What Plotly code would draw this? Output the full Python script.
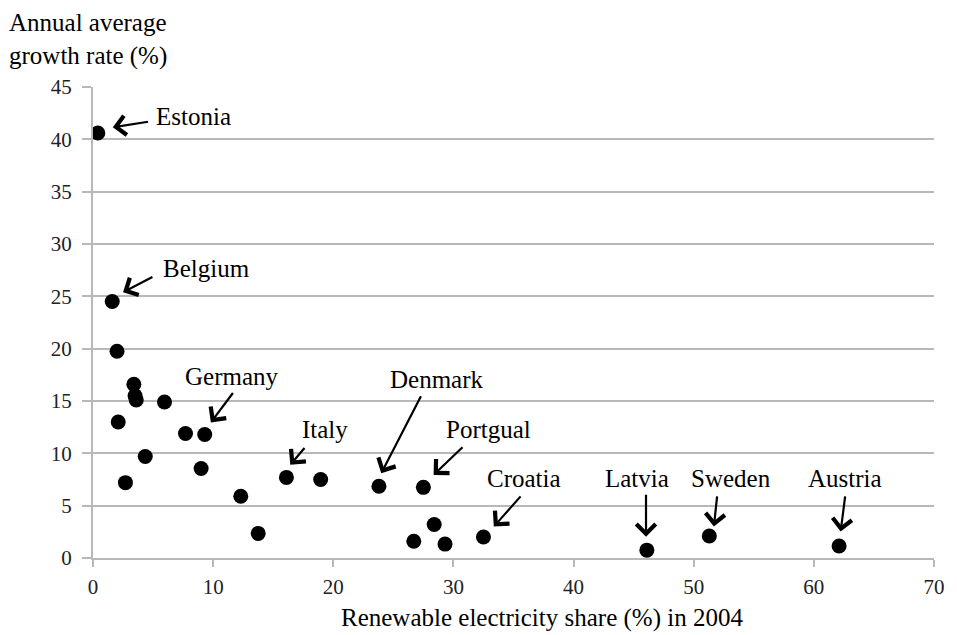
import plotly.graph_objects as go

# Data: renewable electricity share 2004 (%) vs annual average growth rate (%)
share = [0.4, 1.6, 2.0, 3.4, 3.5, 3.6, 2.1, 2.7, 4.35, 5.95, 7.7, 9.3, 9.0, 12.3, 13.75,
         16.1, 18.95, 23.8, 27.5, 28.4, 26.7, 29.3, 32.5, 46.1, 51.3, 62.1]
growth = [40.6, 24.5, 19.75, 16.6, 15.5, 15.1, 13.0, 7.2, 9.7, 14.9, 11.9, 11.8, 8.55, 5.9, 2.35,
          7.7, 7.5, 6.85, 6.75, 3.2, 1.6, 1.33, 2.0, 0.75, 2.1, 1.15]

# Labels: name, arrow tip (x, y), arrow tail (x, y), text position (x, y), anchor
labels = ["Estonia", "Belgium", "Germany", "Italy", "Denmark", "Portgual",
          "Croatia", "Latvia", "Sweden", "Austria"]
tip_x = [1.65, 2.5, 9.81, 16.42, 23.99, 28.35, 33.36, 46.03, 51.68, 62.23]
tip_y = [41.15, 25.39, 12.95, 8.9, 8.1, 7.94, 3.0, 2.04, 3.0, 2.52]
tail_x = [4.71, 5.07, 11.74, 17.71, 27.36, 30.88, 35.7, 46.03, 51.96, 62.62]
tail_y = [41.7, 26.92, 15.91, 10.65, 15.6, 10.72, 6.03, 6.19, 6.03, 6.03]
text_x = [5.04, 5.68, 11.6, 19.31, 28.6, 32.9, 35.87, 45.27, 53.14, 62.56]
text_y = [42.2, 27.63, 17.35, 12.25, 17.03, 12.25, 7.56, 7.56, 7.56, 7.56]
text_anchor = ["left", "left", "center", "center", "center", "center",
               "center", "center", "center", "center"]

x_ticks = [0, 10, 20, 30, 40, 50, 60, 70]
y_ticks = [0, 5, 10, 15, 20, 25, 30, 35, 40, 45]

FONT = "Liberation Serif"
GRID = "#b8b8b8"

fig = go.Figure()
fig.add_trace(go.Scatter(
    x=share, y=growth, mode="markers",
    marker=dict(color="black", size=15, line=dict(width=0)),
    showlegend=False, hoverinfo="x+y"))

annotations = []
for i, name in enumerate(labels):
    annotations.append(dict(
        x=tip_x[i], y=tip_y[i], ax=tail_x[i], ay=tail_y[i],
        xref="x", yref="y", axref="x", ayref="y",
        text="", showarrow=True, arrowhead=4, arrowsize=1.7, arrowwidth=2.2,
        arrowcolor="black", standoff=0, startstandoff=0))
    annotations.append(dict(
        x=text_x[i], y=text_y[i], xref="x", yref="y", text=name,
        showarrow=False, xanchor=text_anchor[i], yanchor="middle",
        font=dict(family=FONT, size=25, color="black")))

annotations.append(dict(
    x=0.0, y=1.0, xref="paper", yref="paper",
    text="Annual average<br>growth rate (%)", showarrow=False,
    xanchor="left", yanchor="top", align="left",
    xshift=-85, yshift=79, borderpad=0,
    font=dict(family=FONT, size=25, color="black")))
annotations.append(dict(
    x=0.5, y=0.0, xref="paper", yref="paper",
    text="Renewable electricity share (%) in 2004", showarrow=False,
    xanchor="center", yanchor="middle", xshift=28, yshift=-60,
    font=dict(family=FONT, size=25, color="black")))

# page body has an 8px margin, so the figure is sized to fit the window
fig.update_layout(
    width=949, height=627,
    margin=dict(l=85, r=16, t=79, b=77),
    paper_bgcolor="white", plot_bgcolor="white",
    font=dict(family=FONT, size=21, color="black"),
    annotations=annotations,
    xaxis=dict(range=[0, 70], tickvals=x_ticks, showgrid=False, zeroline=False,
               showline=True, linecolor=GRID, linewidth=2,
               ticks="outside", ticklen=7, tickcolor=GRID, tickwidth=1.5,
               ticklabelstandoff=2,
               tickfont=dict(family=FONT, size=21, color="#222")),
    yaxis=dict(range=[0, 45], tickvals=y_ticks, showgrid=True, gridcolor=GRID,
               gridwidth=1.5, zeroline=False,
               showline=True, linecolor=GRID, linewidth=2,
               ticks="outside", ticklen=9, tickcolor=GRID, tickwidth=1.5,
               ticklabelstandoff=6,
               tickfont=dict(family=FONT, size=21, color="#222")),
)

fig.write_html("out.html")
